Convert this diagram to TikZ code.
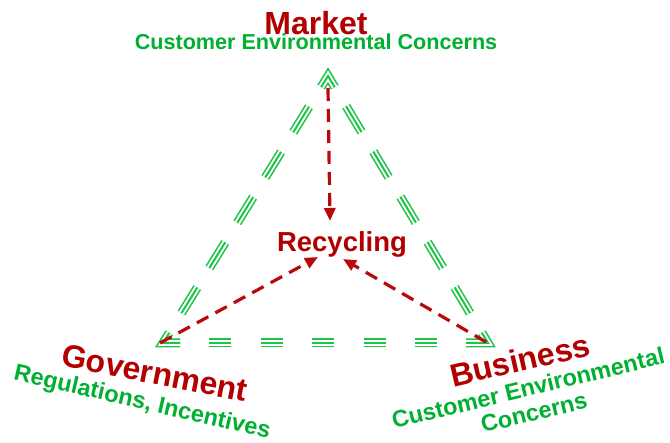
\documentclass[tikz,border=0pt]{standalone}
\usepackage{fontspec}
\setmainfont{Liberation Sans}
\usetikzlibrary{arrows.meta,calc}
\definecolor{txtred}{RGB}{178,0,0}
\definecolor{txtgreen}{RGB}{0,176,48}
\definecolor{trigreen}{RGB}{30,196,72}
\definecolor{arrred}{RGB}{185,10,10}
\begin{document}
\begin{tikzpicture}[x=1pt,y=-1pt,
  title/.style={text=txtred,font=\bfseries\fontsize{32}{36}\selectfont,inner sep=0pt},
  sub/.style={text=txtgreen,font=\bfseries\fontsize{23.5}{25}\selectfont,inner sep=0pt,align=center},
  flow/.style={draw=arrred,line width=3.2pt,dash pattern=on 13pt off 8pt,-{Triangle[length=13pt,width=11pt]}},
  corner/.style={line join=miter,miter limit=10}]
\useasboundingbox (0,0) rectangle (670,443);
\coordinate (A) at (328,76);
\coordinate (B) at (163,343);
\coordinate (C) at (488,343);
\foreach \w/\c in {9/trigreen,5.8/white,2/trigreen}{
  \draw[color=\c,line width=\w pt,dash pattern=on 30pt off 23.15pt,dash phase=30pt]
    ($(A)!13pt!(B)$) -- ($(B)!12pt!(A)$);
  \draw[color=\c,line width=\w pt,dash pattern=on 22pt off 29.4pt,dash phase=22pt]
    ($(B)!17pt!(C)$) -- ($(C)!22pt!(B)$);
  \draw[color=\c,line width=\w pt,dash pattern=on 30pt off 22.8pt,dash phase=30pt]
    ($(C)!12pt!(A)$) -- ($(A)!13pt!(C)$);
  \draw[color=\c,line width=\w pt,corner] ($(A)!13pt!(C)$) -- (A) -- ($(A)!13pt!(B)$);
  \draw[color=\c,line width=\w pt,corner] ($(B)!12pt!(A)$) -- (B) -- ($(B)!17pt!(C)$);
  \draw[color=\c,line width=\w pt,corner] ($(C)!22pt!(B)$) -- (C) -- ($(C)!12pt!(A)$);
}
\node[title,anchor=base] (market) at (316,35) {Market};
\node[sub,font=\bfseries\fontsize{21.6}{24}\selectfont,anchor=base] (mktsub) at (316,50) {Customer Environmental Concerns};
\node[title,font=\bfseries\fontsize{27.5}{30}\selectfont,anchor=base] (recycling) at (342,252) {Recycling};
\node[title,rotate=-11] (gov) at (155,373) {Government};
\node[sub,rotate=-13] (govsub) at (142,403) {Regulations, Incentives};
\node[title,rotate=13] (bus) at (520,360) {Business};
\node[sub,rotate=13.5] (bussub) at (531,400) {Customer Environmental\\Concerns};
\coordinate (s1) at (328,88);
\coordinate (t1) at (330,221);
\coordinate (s2) at (160,343);
\coordinate (t2) at (318,257);
\coordinate (s3) at (486,342);
\coordinate (t3) at (343,259);
\draw[flow] (s1) -- (t1);
\draw[flow] (s2) -- (t2);
\draw[flow] (s3) -- (t3);
\end{tikzpicture}
\end{document}
